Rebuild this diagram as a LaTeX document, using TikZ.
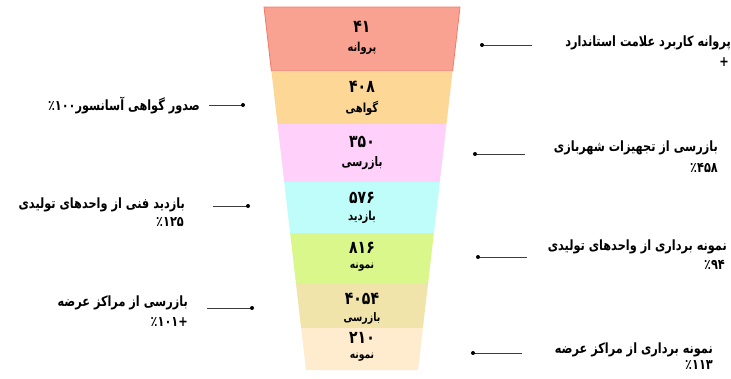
\documentclass[tikz,border=0pt]{standalone}
\usepackage{fontspec}
\usepackage{graphicx}
\TeXXeTstate=1
\newfontfamily\arfont[Script=Arabic]{DejaVu Sans}
\newcommand{\tallR}[1]{\scalebox{1}[1.25]{\beginR #1\endR}}
\newcommand{\tallN}[1]{\scalebox{1}[1.25]{#1}}
\definecolor{cRed}{RGB}{250,162,146}
\definecolor{cRedB}{RGB}{240,122,104}
\definecolor{cOra}{RGB}{253,215,150}
\definecolor{cPnk}{RGB}{255,208,250}
\definecolor{cCya}{RGB}{190,253,250}
\definecolor{cGrn}{RGB}{218,247,140}
\definecolor{cKha}{RGB}{240,228,170}
\definecolor{cCrm}{RGB}{255,235,205}
\definecolor{cLine}{RGB}{60,60,60}
\begin{document}
\begin{tikzpicture}[x=1pt,y=-1pt,
  numtxt/.style={font=\arfont\bfseries\fontsize{14}{16}\selectfont, inner sep=0pt},
  labtxt/.style={font=\arfont\bfseries\fontsize{#1}{12}\selectfont, inner sep=0pt},
  anntxt/.style={font=\arfont\bfseries\fontsize{11.3}{13}\selectfont, inner sep=0pt, anchor=east},
  conn/.style={draw=cLine, line width=0.8pt},
  dotmark/.style={circle, fill=black, inner sep=0pt, minimum size=4pt}]
\useasboundingbox (0,0) rectangle (731,378);
% funnel segments
\fill[cRed, draw=cRedB, line width=0.8pt] (264,7) -- (460,7) -- (452.6,71) -- (271.4,71) -- cycle;
\fill[cOra] (271.4,71) -- (452.6,71) -- (446.5,124) -- (277.5,124) -- cycle;
\fill[cPnk] (277.5,124) -- (446.5,124) -- (439.8,182) -- (284.2,182) -- cycle;
\fill[cCya] (284.2,182) -- (439.8,182) -- (433.9,233) -- (290.1,233) -- cycle;
\fill[cGrn] (290.1,233) -- (433.9,233) -- (428.1,283) -- (295.9,283) -- cycle;
\fill[cKha] (295.9,283) -- (428.1,283) -- (422.9,328) -- (301.1,328) -- cycle;
\fill[cCrm] (301.1,328) -- (422.9,328) -- (418,370) -- (306,370) -- cycle;
% funnel texts
\node[numtxt] (n1) at (362,27) {\tallN{۴۱}};
\node[labtxt=9.8] (l1) at (362,48) {\tallR{پروانه}};
\node[numtxt] (n2) at (362,87) {\tallN{۴۰۸}};
\node[labtxt=10] (l2) at (362,108) {\tallR{گواهی}};
\node[numtxt] (n3) at (362,142) {\tallN{۳۵۰}};
\node[labtxt=10.5] (l3) at (362,163) {\tallR{بازرسی}};
\node[numtxt] (n4) at (362,198) {\tallN{۵۷۶}};
\node[labtxt=10] (l4) at (362,217) {\tallR{بازدید}};
\node[numtxt] (n5) at (362,248) {\tallN{۸۱۶}};
\node[labtxt=9.2] (l5) at (362,267) {\tallR{نمونه}};
\node[numtxt] (n6) at (362,299) {\tallN{۴۰۵۴}};
\node[labtxt=9.4] (l6) at (362,318) {\tallR{بازرسی}};
\node[numtxt] (n7) at (362,338) {\tallN{۲۱۰}};
\node[labtxt=9.2] (l7) at (362,357) {\tallR{نمونه}};
% annotations
\node[anntxt] (a1) at (731,43) {\tallR{پروانه کاربرد علامت استاندارد}};
\node[anntxt] (a1b) at (729,62) {\tallN{+}};
\coordinate (d1) at (482,45); \coordinate (e1) at (532,45);
\draw[conn] (d1) -- (e1); \node[dotmark] at (d1) {};

\node[anntxt] (a2) at (200,105) {\tallR{صدور گواهی آسانسور\beginL٪۱۰۰\endL}};
\coordinate (d2) at (243,105); \coordinate (e2) at (209,105);
\draw[conn] (e2) -- (d2); \node[dotmark] at (d2) {};

\node[anntxt] (a3) at (718,148) {\tallR{بازرسی از تجهیزات شهربازی}};
\node[anntxt] (a3b) at (718,168) {\tallN{٪۴۵۸}};
\coordinate (d3) at (475,154); \coordinate (e3) at (525,154);
\draw[conn] (d3) -- (e3); \node[dotmark] at (d3) {};

\node[anntxt] (a4) at (185,205) {\tallR{بازدید فنی از واحدهای تولیدی}};
\node[anntxt] (a4b) at (184,222) {\tallN{٪۱۲۵}};
\coordinate (d4) at (248,206); \coordinate (e4) at (213,206);
\draw[conn] (e4) -- (d4); \node[dotmark] at (d4) {};

\node[anntxt] (a5) at (727,247) {\tallR{نمونه برداری از واحدهای تولیدی}};
\node[anntxt] (a5b) at (725,265) {\tallN{٪۹۴}};
\coordinate (d5) at (478,257); \coordinate (e5) at (527,257);
\draw[conn] (d5) -- (e5); \node[dotmark] at (d5) {};

\node[anntxt] (a6) at (188,303) {\tallR{بازرسی از مراکز عرضه}};
\node[anntxt] (a6b) at (188,322) {\tallN{+٪۱۰۱}};
\coordinate (d6) at (252,308); \coordinate (e6) at (207,308);
\draw[conn] (e6) -- (d6); \node[dotmark] at (d6) {};

\node[anntxt] (a7) at (713,350) {\tallR{نمونه برداری از مراکز عرضه}};
\node[anntxt] (a7b) at (713,365) {\tallN{٪۱۱۳}};
\coordinate (d7) at (473,353); \coordinate (e7) at (522,353);
\draw[conn] (d7) -- (e7); \node[dotmark] at (d7) {};
\end{tikzpicture}
\end{document}
